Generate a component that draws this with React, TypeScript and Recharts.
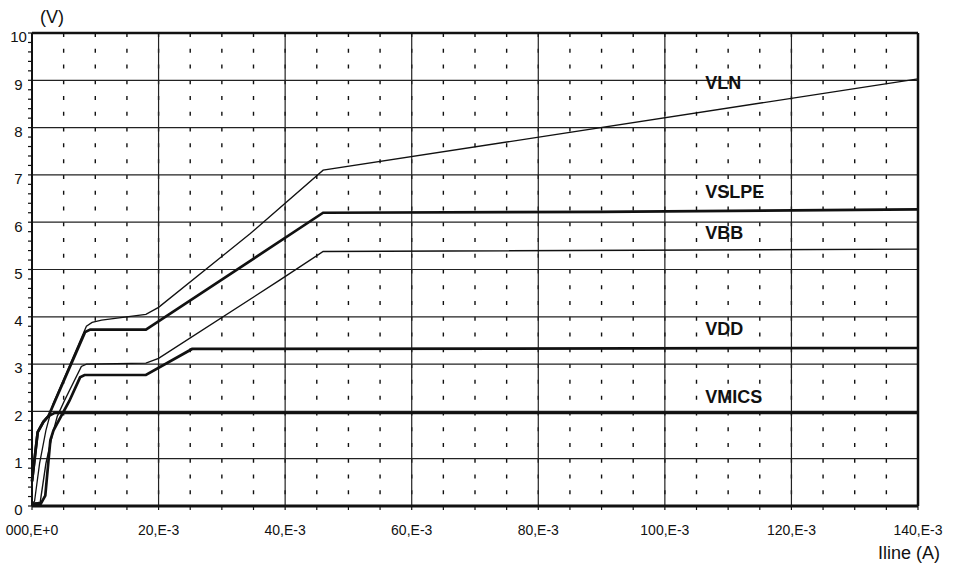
import {
  LineChart,
  Line,
  XAxis,
  YAxis,
  CartesianGrid,
  ReferenceLine,
  ReferenceDot,
} from "recharts";

// measured curves, [Iline in mA, volts]
const vln = [
  [0, 0.05], [0.4, 0.1], [1.2, 0.9], [2.2, 1.6], [3.3, 2.15], [8.6, 3.8],
  [9.5, 3.88], [11, 3.93], [18, 4.05], [20, 4.2], [34.5, 5.76], [46, 7.1], [140, 9.03],
];
const vslpe = [
  [0, 0.52], [0.9, 1.56], [1.8, 1.78], [2.6, 1.9], [8.4, 3.68], [9.2, 3.73],
  [18, 3.73], [19.5, 3.86], [46, 6.2], [90, 6.22], [140, 6.27],
];
const vbb = [
  [0, 0.05], [1.3, 0.08], [2.2, 0.9], [3.2, 1.5], [4.0, 1.9], [5.1, 2.22],
  [7.8, 2.95], [8.6, 3.0], [18, 3.02], [20, 3.12], [39.2, 4.78], [46, 5.38], [140, 5.43],
];
const vdd = [
  [0, 0.05], [1.4, 0.05], [2.1, 0.22], [2.9, 1.39], [3.4, 1.6], [5.9, 2.22],
  [7.6, 2.72], [8.3, 2.77], [18, 2.77], [25.3, 3.32], [140, 3.34],
];
const vmics = [
  [0, 0.52], [0.9, 1.56], [1.8, 1.78], [2.6, 1.9], [3.6, 1.97], [140, 1.97],
];

const xTicks = [
  0, 5, 10, 15, 20, 25, 30, 35, 40, 45, 50, 55, 60, 65, 70, 75, 80, 85, 90, 95,
  100, 105, 110, 115, 120, 125, 130, 135, 140,
];
const xLabelValues = [0, 20, 40, 60, 80, 100, 120, 140];
const xLabelText = ["000,E+0", "20,E-3", "40,E-3", "60,E-3", "80,E-3", "100,E-3", "120,E-3", "140,E-3"];
const majorX = [20, 40, 60, 80, 100, 120];
const majorY = [0, 1, 2, 3, 4, 5, 6, 7, 8, 9, 10];
const yTicks = Array.from({ length: 51 }, (_, i) => i / 5);

// where each curve name sits
const seriesNames = ["VLN", "VSLPE", "VBB", "VDD", "VMICS"];
const nameX = [106.4, 106.4, 106.4, 106.4, 106.4];
const nameY = [8.95, 6.64, 5.78, 3.74, 2.31];

const toPts = (arr: number[][]) => arr.map(([x, v]) => ({ x, v }));

const FONT = "'Liberation Sans', Arial, sans-serif";
const INK = "#111";

const W = 953;
const H = 567;
const PLOT_H = 473;

export default function App() {
  const fmtX = (v: number) => {
    const i = xLabelValues.indexOf(v);
    return i >= 0 ? xLabelText[i] : "";
  };
  const fmtY = (v: number) => (majorY.includes(v) ? String(v) : "");
  const dotPeriod = PLOT_H / 30;

  return (
    <div style={{ position: "absolute", left: 0, top: 0, width: W, height: H, background: "#fff", fontFamily: FONT }}>
      <LineChart width={W} height={H} margin={{ top: 33, right: 35, left: 0, bottom: 0 }}>
        {/* dotted marks every 5 mA, every 1/3 V */}
        <CartesianGrid
          horizontal={false}
          stroke={INK}
          strokeWidth={1.4}
          strokeDasharray={`4 ${dotPeriod - 4}`}
        />
        <XAxis
          dataKey="x"
          type="number"
          domain={[0, 140]}
          ticks={xTicks}
          interval={0}
          tickFormatter={fmtX}
          height={61}
          tickSize={4}
          tickMargin={15}
          axisLine={{ stroke: INK, strokeWidth: 3 }}
          tickLine={{ stroke: INK, strokeWidth: 1.2 }}
          tick={{ fill: INK, fontSize: 14, fontFamily: FONT }}
        />
        <YAxis
          type="number"
          domain={[0, 10]}
          ticks={yTicks}
          interval={0}
          tickFormatter={fmtY}
          width={32}
          tickSize={4}
          tickMargin={9.5}
          axisLine={{ stroke: INK, strokeWidth: 2 }}
          tickLine={{ stroke: INK, strokeWidth: 1.2 }}
          tick={{ fill: INK, fontSize: 15, fontFamily: FONT, textAnchor: "middle", dy: 4 }}
        />

        {majorX.map((x) => (
          <ReferenceLine key={"gx" + x} x={x} stroke="#222" strokeWidth={1.2} />
        ))}
        {majorY.slice(1, 10).map((y) => (
          <ReferenceLine key={"gy" + y} y={y} stroke="#222" strokeWidth={1.2} />
        ))}
        <ReferenceLine y={10} stroke={INK} strokeWidth={2.5} />
        <ReferenceLine x={140} stroke={INK} strokeWidth={2.5} />

        <Line data={toPts(vln)} dataKey="v" type="linear" stroke={INK} strokeWidth={1.3} dot={false} isAnimationActive={false} />
        <Line data={toPts(vslpe)} dataKey="v" type="linear" stroke={INK} strokeWidth={2.7} dot={false} isAnimationActive={false} />
        <Line data={toPts(vbb)} dataKey="v" type="linear" stroke={INK} strokeWidth={1.4} dot={false} isAnimationActive={false} />
        <Line data={toPts(vdd)} dataKey="v" type="linear" stroke={INK} strokeWidth={2.7} dot={false} isAnimationActive={false} />
        <Line data={toPts(vmics)} dataKey="v" type="linear" stroke={INK} strokeWidth={2.7} dot={false} isAnimationActive={false} />

        {seriesNames.map((name, i) => (
          <ReferenceDot
            key={name}
            x={nameX[i]}
            y={nameY[i]}
            r={0}
            fill="none"
            stroke="none"
            label={{
              value: name,
              position: "right",
              offset: 0,
              fill: INK,
              fontSize: 18,
              fontWeight: "bold",
              fontFamily: FONT,
            }}
          />
        ))}
      </LineChart>

      <div style={{ position: "absolute", left: 40, top: 6, fontSize: 18, color: INK, lineHeight: "22px" }}>(V)</div>
      <div style={{ position: "absolute", right: 13, top: 542, fontSize: 18, color: INK, lineHeight: "22px" }}>Iline (A)</div>
    </div>
  );
}
